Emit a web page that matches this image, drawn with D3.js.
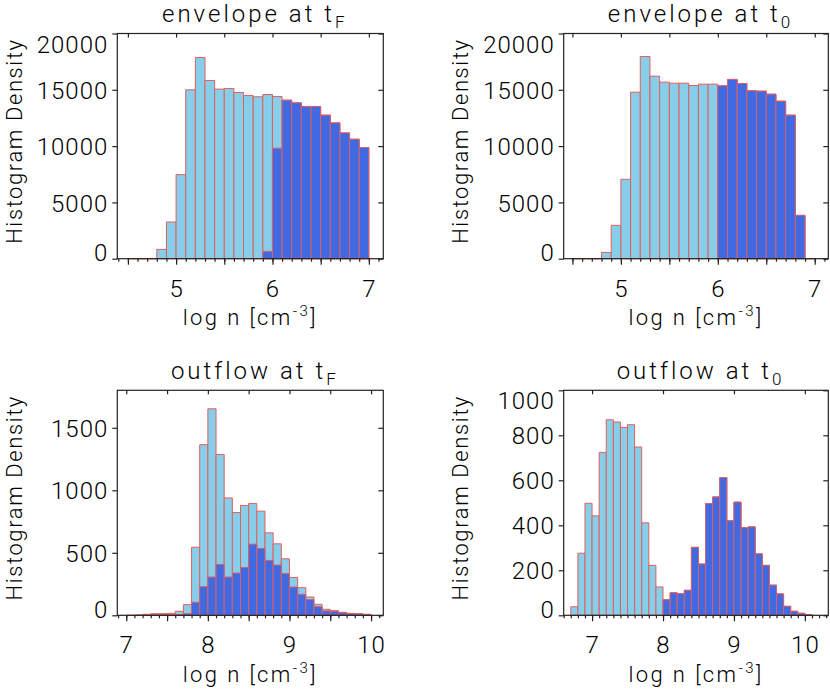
<!DOCTYPE html>
<html>
<head>
<meta charset="utf-8">
<script src="https://cdn.jsdelivr.net/npm/d3@7"></script>
<style>
  body { margin: 0; background: #fff; }
  text { font-family: Roboto, "Liberation Sans", Arial, sans-serif; font-weight: 300; fill: #000; }
</style>
</head>
<body>
<svg id="figura"></svg>
<script>
const WIDTH = 830,
	HEIGHT = 691;

// Ancho de cada bin en log n
const anchoBin = 0.1;

// envelope at tF
const envTFInicio = 4.5;
const envTFTotal = [0, 0, 0, 830, 3260, 7470, 15000, 17870, 15830, 15060, 15120, 14760, 14490,
	14380, 14580, 14400, 14080, 13840, 13520, 13520, 12750, 12060, 11170, 10610, 9870];
const envTFDenso = [0, 0, 0, 0, 0, 0, 0, 0, 0, 0, 0, 0, 0,
	0, 650, 9810, 14080, 13840, 13520, 13520, 12750, 12060, 11170, 10610, 9870];

// envelope at t0
const envT0Inicio = 4.5;
const envT0Total = [0, 0, 0, 560, 2960, 7050, 14790, 17960, 16210, 15680, 15590, 15590, 15380,
	15500, 15500, 15350, 15920, 15560, 14910, 14880, 14610, 13990, 12750, 3850, 0];
const envT0Denso = [0, 0, 0, 0, 0, 0, 0, 0, 0, 0, 0, 0, 0,
	0, 0, 15350, 15920, 15560, 14910, 14880, 14610, 13990, 12750, 3850, 0];

// outflow at tF
const outTFInicio = 7.0;
const outTFTotal = [0, 3, 8, 13, 13, 16, 32, 85, 545, 1365, 1652, 1287, 939, 822, 878,
	894, 833, 660, 572, 452, 303, 221, 146, 88, 48, 37, 24, 16, 13, 8];
const outTFDenso = [0, 0, 3, 5, 5, 5, 5, 13, 104, 229, 306, 407, 306, 338, 383,
	569, 535, 439, 402, 333, 226, 168, 125, 69, 35, 32, 21, 13, 11, 5];

// outflow at t0
const outT0Inicio = 6.7;
const outT0Total = [38, 276, 498, 442, 724, 869, 859, 835, 847, 748, 411, 222, 126,
	69, 100, 96, 111, 302, 228, 497, 526, 612, 420, 503, 389, 393, 273, 222, 134, 95, 40, 18, 9, 3];
const outT0Denso = [0, 0, 0, 0, 0, 0, 0, 0, 0, 0, 0, 0, 0,
	69, 100, 96, 111, 302, 228, 497, 526, 612, 420, 503, 389, 393, 273, 222, 134, 95, 40, 18, 9, 3];

// Ticks
const envYTicks = [0, 5000, 10000, 15000, 20000];
const outTFYTicks = [0, 500, 1000, 1500];
const outT0YTicks = [0, 200, 400, 600, 800, 1000];
const envXTicks = [4.5, 5, 5.5, 6, 6.5, 7];
const outTFXTicks = [7, 7.5, 8, 8.5, 9, 9.5, 10];
const outT0XTicks = [7, 8, 9, 10];

const paneles = [
	{ titulo: "envelope at t", sub: "F", inicio: envTFInicio, total: envTFTotal, denso: envTFDenso,
		xDom: [4.39, 7.15], yDom: [0, 20000], xTicks: envXTicks, yTicks: envYTicks, col: 0, fila: 0 },
	{ titulo: "envelope at t", sub: "0", inicio: envT0Inicio, total: envT0Total, denso: envT0Denso,
		xDom: [4.41, 7.14], yDom: [0, 20000], xTicks: envXTicks, yTicks: envYTicks, col: 1, fila: 0 },
	{ titulo: "outflow at t", sub: "F", inicio: outTFInicio, total: outTFTotal, denso: outTFDenso,
		xDom: [6.89, 10.15], yDom: [0, 1800], xTicks: outTFXTicks, yTicks: outTFYTicks, col: 0, fila: 1 },
	{ titulo: "outflow at t", sub: "0", inicio: outT0Inicio, total: outT0Total, denso: outT0Denso,
		xDom: [6.6, 10.33], yDom: [0, 1000], xTicks: outT0XTicks, yTicks: outT0YTicks, col: 1, fila: 1 }
];

// Layout de las cajas
const cajaX = [[117.3, 383.3], [563.7, 828.3]];
const cajaY = [[33.5, 258.7], [390.3, 615.3]];

const svg = d3.select("#figura")
	.attr("width", WIDTH)
	.attr("height", HEIGHT);

const trazoBarra = (escalaX, escalaY) => d => {
	const x0 = escalaX(d.x0), x1 = escalaX(d.x1);
	const y0 = escalaY(0), y1 = escalaY(d.v);
	return `M${x0},${y0}V${y1}H${x1}V${y0}Z`;
};

const dibujarPanel = (p) => {
	const [xIzq, xDer] = cajaX[p.col];
	const [yArr, yAba] = cajaY[p.fila];

	const escalaX = d3.scaleLinear().domain(p.xDom).range([xIzq, xDer]);
	const escalaY = d3.scaleLinear().domain(p.yDom).range([yAba, yArr]);

	const bins = (valores) => valores.map((v, i) => ({
		x0: p.inicio + i * anchoBin,
		x1: p.inicio + (i + 1) * anchoBin,
		v: v
	}));

	const g = svg.append("g");

	// Barras totales (celeste)
	g.append("g")
		.selectAll("path")
		.data(bins(p.total))
		.join("path")
		.attr("d", trazoBarra(escalaX, escalaY))
		.attr("fill", "#87CEEB")
		.attr("stroke", "#e0605c")
		.attr("stroke-width", 1);

	// Barras del subconjunto denso (azul)
	g.append("g")
		.selectAll("path")
		.data(bins(p.denso).filter(d => d.v > 0))
		.join("path")
		.attr("d", trazoBarra(escalaX, escalaY))
		.attr("fill", "#4169E1")
		.attr("stroke", "#d8606a")
		.attr("stroke-width", 1);

	// Caja
	g.append("rect")
		.attr("x", xIzq)
		.attr("y", yArr)
		.attr("width", xDer - xIzq)
		.attr("height", yAba - yArr)
		.attr("fill", "none")
		.attr("stroke", "#222")
		.attr("stroke-width", 1.2);

	const menores = d3.range(Math.ceil(p.xDom[0] * 10 - 1e-6), Math.floor(p.xDom[1] * 10 + 1e-6) + 1)
		.map(k => k / 10);

	// Eje inferior: ticks menores
	g.append("g")
		.attr("transform", `translate(0 ${yAba})`)
		.call(d3.axisBottom(escalaX).tickValues(menores).tickSize(3).tickFormat(""))
		.call(e => e.select(".domain").remove());

	// Eje inferior: ticks mayores con etiquetas solo en enteros
	g.append("g")
		.attr("transform", `translate(0 ${yAba})`)
		.call(d3.axisBottom(escalaX).tickValues(p.xTicks).tickSize(6)
			.tickFormat(d => Number.isInteger(d) ? d : ""))
		.call(e => e.select(".domain").remove())
		.call(e => e.selectAll(".tick text")
			.attr("y", 38)
			.attr("dy", 0)
			.style("font-size", "24px")
			.style("letter-spacing", "1px")
			.attr("fill", "#000"));

	// Eje superior: ticks hacia adentro
	g.append("g")
		.attr("transform", `translate(0 ${yArr})`)
		.call(d3.axisBottom(escalaX).tickValues(p.xTicks).tickSize(4).tickFormat(""))
		.call(e => e.select(".domain").remove());

	// Eje izquierdo
	g.append("g")
		.attr("transform", `translate(${xIzq} 0)`)
		.call(d3.axisLeft(escalaY).tickValues(p.yTicks).tickSize(5).tickPadding(4)
			.tickFormat(d3.format("d")))
		.call(e => e.select(".domain").remove())
		.call(e => e.selectAll(".tick text")
			.attr("dy", d => d === p.yDom[0] ? 2 : d === p.yDom[1] ? 18.5 : 8.6)
			.style("font-size", "24px")
			.style("letter-spacing", "1px")
			.attr("fill", "#000"));

	// Eje derecho: ticks hacia adentro
	g.append("g")
		.attr("transform", `translate(${xDer} 0)`)
		.call(d3.axisLeft(escalaY).tickValues(p.yTicks).tickSize(5).tickFormat(""))
		.call(e => e.select(".domain").remove());

	g.selectAll(".tick line").attr("stroke", "#222").attr("stroke-width", 1.2);

	const centroX = (xIzq + xDer) / 2;

	// Titulo con subindice
	const titulo = g.append("text")
		.attr("x", centroX + 3)
		.attr("y", yArr - 11.5)
		.attr("text-anchor", "middle")
		.style("font-size", "24px")
		.style("letter-spacing", "3px")
		.text(p.titulo);
	titulo.append("tspan")
		.attr("dy", 6)
		.style("font-size", "17px")
		.style("letter-spacing", "0px")
		.text(p.sub);

	// Titulo eje X
	const tituloX = g.append("text")
		.attr("x", centroX)
		.attr("y", yAba + 66.5)
		.attr("text-anchor", "middle")
		.style("font-size", "22px")
		.style("letter-spacing", "2.4px")
		.text("log n [cm");
	tituloX.append("tspan")
		.attr("dy", -9)
		.style("font-size", "15px")
		.text("-3");
	tituloX.append("tspan")
		.attr("dy", 9)
		.text("]");

	// Titulo eje Y
	g.append("text")
		.attr("transform", `translate(${xIzq - 95.5} ${(yArr + yAba) / 2 - 5}) rotate(-90)`)
		.attr("text-anchor", "middle")
		.style("font-size", "22px")
		.style("letter-spacing", "1.6px")
		.text("Histogram Density");
};

paneles.forEach(p => dibujarPanel(p));
</script>
</body>
</html>
